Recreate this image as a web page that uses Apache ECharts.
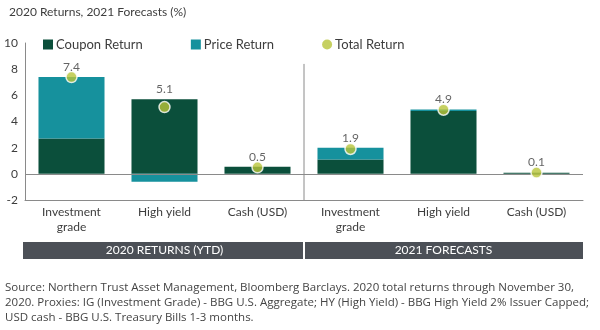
<!DOCTYPE html>
<html><head><meta charset="utf-8">
<script src="https://cdn.jsdelivr.net/npm/echarts@6/dist/echarts.min.js"></script>
<style>html,body{margin:0;padding:0;background:#fff}#c{width:600px;height:330px}</style>
</head><body><div id="c"></div>
<script>
var categories = ['Investment\ngrade', 'High yield', 'Cash (USD)', 'Investment\ngrade', 'High yield', 'Cash (USD)'];
var couponReturn = [2.7, 5.7, 0.55, 1.1, 4.8, 0.08];
var priceReturn = [4.7, -0.6, 0, 0.9, 0.12, 0];
var totalReturn = [7.4, 5.1, 0.5, 1.9, 4.9, 0.1];
var yTicks = [-2, 0, 2, 4, 6, 8, 10];
var groupLabels = ['2020 RETURNS (YTD)', '2021 FORECASTS'];
var titleText = '2020 Returns, 2021 Forecasts (%)';
var footLines = [
  'Source: Northern Trust Asset Management, Bloomberg Barclays. 2020 total returns through November 30,',
  '2020. Proxies: IG (Investment Grade) - BBG U.S. Aggregate; HY (High Yield) - BBG High Yield 2% Issuer Capped;',
  'USD cash - BBG U.S. Treasury Bills 1-3 months.'
];

var FONT = 'Lato';
var cCoupon = '#0b4f3b', cPrice = '#16919d', cTotal = '#b8c43a', txt = '#3d3d3d';

// label anchor: above the higher of stack top and total dot
var labelAnchor = totalReturn.map(function (t, i) {
  return Math.max(t, couponReturn[i] + Math.max(priceReturn[i], 0));
});

var chart = echarts.init(document.getElementById('c'), null, {renderer: 'canvas'});
var option = {
  animation: false,
  textStyle: {fontFamily: FONT},
  title: {text: titleText, left: 4, top: 1, textStyle: {fontFamily: FONT, fontSize: 12, fontWeight: 'normal', color: txt}},
  legend: {
    left: 38, top: 33, itemGap: 48, itemWidth: 10, itemHeight: 10,
    textStyle: {fontFamily: FONT, fontSize: 13, color: txt, padding: [0, 0, 0, -2]},
    data: [
      {name: 'Coupon Return', icon: 'rect'},
      {name: 'Price Return', icon: 'rect'},
      {name: 'Total Return', icon: 'circle', itemStyle: {borderWidth: 0}}
    ]
  },
  grid: {left: 25, right: 17, top: 43, bottom: 130},
  xAxis: {
    type: 'category', data: categories,
    axisLine: {show: true, onZero: false, lineStyle: {color: '#8a8a8a', width: 1}},
    axisTick: {show: false},
    axisLabel: {fontFamily: FONT, fontSize: 12, color: txt, lineHeight: 15, margin: 5, interval: 0}
  },
  yAxis: {
    type: 'value', min: -2, max: 10, interval: 2,
    axisLine: {show: true, lineStyle: {color: '#8a8a8a', width: 1}},
    axisTick: {show: false},
    splitLine: {show: false},
    axisLabel: {fontFamily: FONT, fontSize: 12, color: txt, margin: 7}
  },
  series: [
    {name: 'Coupon Return', type: 'bar', stack: 'r', data: couponReturn, barWidth: '71%',
     itemStyle: {color: cCoupon},
     markLine: {silent: true, symbol: 'none', label: {show: false},
       lineStyle: {color: '#8a8a8a', type: 'solid', width: 1}, data: [{yAxis: 0}]}},
    {name: 'Price Return', type: 'bar', stack: 'r', data: priceReturn, barWidth: '71%',
     itemStyle: {color: cPrice}},
    {name: 'Total Return', type: 'scatter', data: totalReturn, symbolSize: 11, z: 5,
     itemStyle: {color: cTotal, borderColor: '#ffffff', borderWidth: 1.5}},
    {name: 'labels', type: 'scatter', data: labelAnchor, symbolSize: 0, silent: true, z: 6,
     label: {show: true, position: 'top', distance: 4, fontFamily: FONT, fontSize: 12, color: txt,
       formatter: function (p) { return totalReturn[p.dataIndex].toFixed(1); }}}
  ]
};
chart.setOption(option);

// decorations derived from axis positions
var x0 = chart.convertToPixel({xAxisIndex: 0}, 0);
var x1 = chart.convertToPixel({xAxisIndex: 0}, 1);
var band = x1 - x0;
var left = x0 - band / 2;
var mid = left + band * 3;
var right = left + band * 6;
var yBottom = chart.convertToPixel({yAxisIndex: 0}, -2);
var yTopDiv = chart.convertToPixel({yAxisIndex: 0}, 8.4);
var bTop = yBottom + 42, bH = 17;
var graphics = [
  {type: 'line', shape: {x1: mid, y1: yTopDiv, x2: mid, y2: yBottom}, style: {stroke: '#8a8a8a', lineWidth: 1}},
  {type: 'rect', shape: {x: left - 2, y: bTop, width: mid - left + 1, height: bH}, style: {fill: '#4c5057'}},
  {type: 'rect', shape: {x: mid + 1, y: bTop, width: right - mid - 1, height: bH}, style: {fill: '#4c5057'}},
  {type: 'text', style: {text: groupLabels[0], x: (left + mid) / 2, y: bTop + bH / 2, align: 'center', verticalAlign: 'middle', fill: '#ffffff', font: '12px ' + FONT}},
  {type: 'text', style: {text: groupLabels[1], x: (mid + right) / 2, y: bTop + bH / 2, align: 'center', verticalAlign: 'middle', fill: '#ffffff', font: '12px ' + FONT}}
];
footLines.forEach(function (t, i) {
  graphics.push({type: 'text', style: {text: t, x: 5, y: 288 + i * 15, verticalAlign: 'middle', fill: '#444', font: '11.5px "Open Sans"'}});
});
chart.setOption({graphic: graphics});
</script></body></html>
